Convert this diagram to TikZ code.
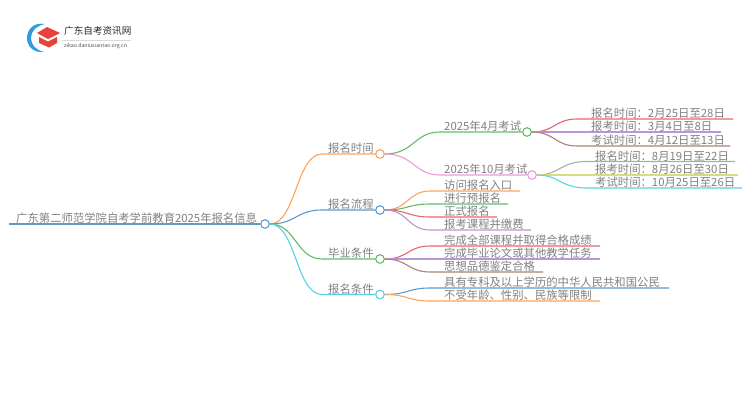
\documentclass[tikz,border=0pt]{standalone}
\usepackage{fontspec}
\setmainfont{Noto Sans CJK SC}
\definecolor{naranja}{HTML}{FFA258}
\definecolor{azul}{HTML}{5B9BD0}
\definecolor{verde}{HTML}{62BB6A}
\definecolor{cian}{HTML}{55D3E3}
\definecolor{rojo}{HTML}{E5656F}
\definecolor{lila}{HTML}{BC94DE}
\definecolor{marron}{HTML}{AD8078}
\definecolor{rosa}{HTML}{EE9AD9}
\definecolor{gris}{HTML}{ABABAB}
\definecolor{oliva}{HTML}{DADA7E}
\definecolor{texto}{HTML}{808080}
\definecolor{gorro}{HTML}{E8403A}
\definecolor{arco}{HTML}{2E9BE0}
\tikzset{
  punto/.style={circle,draw,fill=white,line width=1.1pt,minimum size=8.6pt,inner sep=0pt},
  rotulo/.style={anchor=base west,inner sep=0pt,text=texto,font=\fontsize{11.35}{12}\selectfont},
  rama/.style={line width=1.1pt}
}
\begin{document}
\begin{tikzpicture}[x=1pt,y=-1pt]
\useasboundingbox (0,0) rectangle (750,410);
%
% logo
\fill[arco] (45,24) .. controls (33,22) and (27,30) .. (27,38) .. controls (27,46) and (33,53) .. (44,52)
  .. controls (36,50) and (31,45) .. (31,38) .. controls (31,31) and (36,26) .. (45,24) -- cycle;
\fill[gorro] (37,33) -- (47,27) -- (60,33) -- (48,39) -- cycle;
\fill[gorro] (39,37) -- (48,41.5) -- (57,37) -- (57,43) -- (49,47.5) -- (39,43) -- cycle;
\node[inner sep=0pt,anchor=west,font=\fontsize{9.6}{10}\selectfont,text=black!85] (marca) at (64,31) {广东自考资讯网};
\node[inner sep=0pt,anchor=west,font=\fontsize{5.2}{6}\selectfont,text=black!70] (web) at (64,46.5) {zikao.daniuxueriao.org.cn};
\coordinate (filete a) at (62,40);
\coordinate (filete b) at (131,40);
\draw[very thin,black!15] (filete a) -- (filete b);
%
% raiz
\node[punto,draw=azul] (raiz) at (265,224) {};
\coordinate (inicio) at (9,224);
\draw[azul,line width=1.3pt] (inicio) -- (raiz);
\node[rotulo] (titulo) at (16,222.5) {广东第二师范学院自考学前教育2025年报名信息};
%
% primer nivel
\foreach \nombre/\yy/\tinte/\txt in {tiempo/154/naranja/报名时间,flujo/210/azul/报名流程,grado/259/verde/毕业条件,requisito/294.5/cian/报名条件}{
  \node[punto,draw=\tinte] (\nombre) at (380,\yy) {};
  \coordinate (\nombre a) at (322,\yy);
  \draw[rama,\tinte] (raiz.east) .. controls (296,224) and (296,\yy) .. (\nombre a) -- (\nombre.west);
  \node[rotulo] (\nombre t) at (328,\yy-1.5) {\txt};
}
%
% segundo nivel, con hijos
\node[punto,draw=verde] (abril) at (527,132) {};
\node[punto,draw=rosa] (octubre) at (532,175) {};
\foreach \nombre/\yy/\tinte/\txt in {abril/132/verde/2025年4月考试,octubre/175/rosa/2025年10月考试}{
  \coordinate (\nombre a) at (440,\yy);
  \draw[rama,\tinte] (tiempo.east) .. controls (414,154) and (414,\yy) .. (\nombre a) -- (\nombre.west);
  \node[rotulo] (\nombre t) at (444,\yy-1.5) {\txt};
}
%
% hojas
\foreach \padre/\nombre/\xa/\xt/\yy/\xb/\tinte/\txt in {%
abril/hojaa/577/591/119/733/rojo/报名时间：2月25日至28日,
abril/hojab/577/591/132/721/lila/报考时间：3月4日至8日,
abril/hojac/577/591/146/730/marron/考试时间：4月12日至13日,
octubre/hojad/587/595/161.5/735/gris/报名时间：8月19日至22日,
octubre/hojae/587/595/175/738/oliva/报考时间：8月26日至30日,
octubre/hojaf/587/595/188/742/cian/考试时间：10月25日至26日,
flujo/hojag/430/444/191/520/naranja/访问报名入口,
flujo/hojah/430/444/204/508/verde/进行预报名,
flujo/hojai/430/444/217/497/rojo/正式报名,
flujo/hojaj/430/444/230/531/lila/报考课程并缴费,
grado/hojak/430/444/246/600/rojo/完成全部课程并取得合格成绩,
grado/hojal/430/444/259/600/lila/完成毕业论文或其他教学任务,
grado/hojam/430/444/272/543/marron/思想品德鉴定合格,
requisito/hojan/430/444/288/669/azul/具有专科及以上学历的中华人民共和国公民,
requisito/hojao/430/444/301/600/naranja/不受年龄、性别、民族等限制}{
  \coordinate (\nombre a) at (\xa,\yy);
  \coordinate (\nombre b) at (\xb,\yy);
  \path (\padre.east) ++(23,0) coordinate (\nombre c);
  \draw[rama,\tinte] (\padre.east) .. controls (\nombre c) and (\nombre c |- \nombre a) .. (\nombre a) -- (\nombre b);
  \node[rotulo] (\nombre t) at (\xt,\yy-1.5) {\txt};
}
\end{tikzpicture}
\end{document}
